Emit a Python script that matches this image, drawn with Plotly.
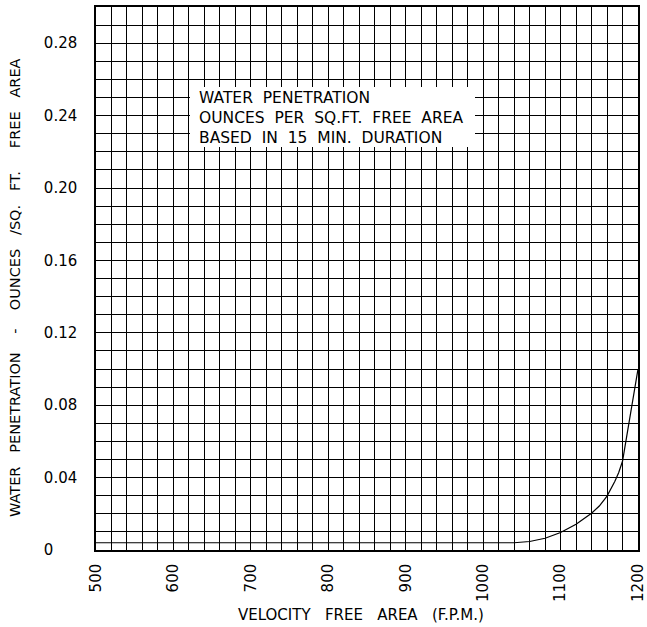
import plotly.graph_objects as go

# ---- data ----
velocity = [500, 1040, 1060, 1080, 1100, 1120, 1140, 1150, 1160, 1170, 1175, 1180, 1200]
penetration = [0.004, 0.004, 0.0047, 0.0065, 0.0097, 0.0142, 0.0203, 0.0243, 0.0298, 0.0378, 0.0427, 0.049, 0.100]

x_tick_vals = [500, 600, 700, 800, 900, 1000, 1100, 1200]
x_tick_text = ["500", "600", "700", "800", "900", "1000", "1100", "1200"]
y_tick_vals = [0, 0.04, 0.08, 0.12, 0.16, 0.20, 0.24, 0.28]
y_tick_text = ["0\u2008\u2007\u2007", "0.04", "0.08", "0.12", "0.16", "0.20", "0.24", "0.28"]

S2 = "\u00a0\u00a0"
S3 = "\u00a0\u00a0\u00a0"
note_lines = [
    "WATER" + S2 + "PENETRATION",
    "OUNCES" + S2 + "PER" + S2 + "SQ.FT." + S2 + "FREE" + S2 + "AREA",
    "BASED" + S2 + "IN" + S2 + "15" + S2 + "MIN." + S2 + "DURATION",
]
x_title = "VELOCITY" + S3 + "FREE" + S3 + "AREA" + S3 + "(F.P.M.)"
y_title = ("WATER" + S3 + "PENETRATION" + S3 + "\u00a0-\u00a0" + S3 + "OUNCES" + S3 + "/SQ." + S3 + "FT."
           + S3 + "\u00a0\u00a0" + "FREE" + S3 + "AREA")

FONT = "DejaVu Sans"

fig = go.Figure()
fig.add_trace(go.Scatter(x=velocity, y=penetration, mode="lines",
                         line=dict(color="black", width=1.2), hoverinfo="skip",
                         showlegend=False))

# white box behind note text
fig.add_shape(type="rect", xref="paper", yref="paper",
              x0=(190 - 96) / 542, x1=(475 - 96) / 542,
              y0=(550 - 147) / 543, y1=(550 - 87) / 543,
              fillcolor="white", line=dict(width=0), layer="above")

fig.add_annotation(text="<br>".join(note_lines), xref="paper", yref="paper",
                   x=(197 - 96) / 542, y=(550 - 118) / 543,
                   xanchor="left", yanchor="middle", align="left", showarrow=False,
                   font=dict(family=FONT, size=15.5, color="black"))

# y-axis title as rotated annotation
fig.add_annotation(text=y_title, xref="paper", yref="paper",
                   x=(15 - 96) / 542, y=(550 - 288) / 543,
                   xanchor="center", yanchor="middle", textangle=-90, showarrow=False,
                   font=dict(family=FONT, size=14.5, color="black"))

# x-axis title
fig.add_annotation(text=x_title, xref="paper", yref="paper",
                   x=(361 - 96) / 542, y=(550 - 615) / 543,
                   xanchor="center", yanchor="middle", showarrow=False,
                   font=dict(family=FONT, size=15, color="black"))

fig.update_layout(
    template="none",
    width=647, height=627,
    margin=dict(l=96, r=9, t=7, b=77),
    paper_bgcolor="white", plot_bgcolor="white",
    font=dict(family=FONT, color="black"),
    xaxis=dict(range=[500, 1200], tickvals=x_tick_vals, ticktext=x_tick_text,
               tickangle=-90, tickfont=dict(size=15, family=FONT),
               showgrid=True, gridcolor="black", gridwidth=1,
               minor=dict(dtick=20, tick0=500, showgrid=True, gridcolor="black", gridwidth=1),
               showline=True, linecolor="black", linewidth=1.5, mirror=True,
               ticks="", zeroline=False, ticklabelstandoff=6, automargin=False),
    yaxis=dict(range=[0, 0.30], tickvals=y_tick_vals, ticktext=y_tick_text,
               tickfont=dict(size=15, family=FONT),
               showgrid=True, gridcolor="black", gridwidth=1,
               minor=dict(dtick=0.01, tick0=0, showgrid=True, gridcolor="black", gridwidth=1),
               showline=True, linecolor="black", linewidth=1.5, mirror=True,
               ticks="", zeroline=False, ticklabelstandoff=14, automargin=False),
)

fig.write_html("out.html", config={"displayModeBar": False},
               post_script="document.body.style.margin='0';")
